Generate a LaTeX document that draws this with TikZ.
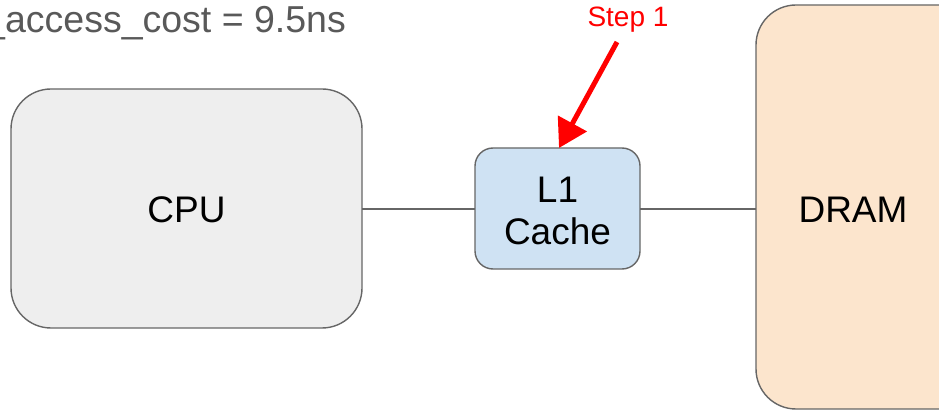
\documentclass[tikz,border=0pt]{standalone}
\usepackage{fontspec}
\setmainfont{Liberation Sans}
\usetikzlibrary{arrows.meta}
\definecolor{edgegray}{HTML}{666666}
\definecolor{cpufill}{HTML}{EEEEEE}
\definecolor{cachefill}{HTML}{CFE2F3}
\definecolor{dramfill}{HTML}{FCE5CD}
\definecolor{notegray}{HTML}{595959}
\definecolor{stepred}{HTML}{FF0000}
\tikzset{
  unitbox/.style={draw=edgegray, line width=1.4pt, rounded corners=#1, inner sep=0pt},
  link/.style={draw=edgegray, line width=1.4pt},
  boxtext/.style={font=\fontsize{37}{42}\selectfont, text=black, align=center},
}
\begin{document}
\begin{tikzpicture}[x=1pt, y=-1pt]
\useasboundingbox (0,0) rectangle (939,411);
\clip (0,0) rectangle (939,411);
\fill[white] (0,0) rectangle (939,411);
% component boxes
\draw[unitbox=40pt, fill=cpufill] (11,89) rectangle (362,328);
\draw[unitbox=18pt, fill=cachefill] (475,148) rectangle (640,269);
\draw[unitbox=40pt, fill=dramfill] (756,5) rectangle (985,409);
\node[boxtext] (cpu) at (186.5,210) {CPU};
\node[boxtext] (l1) at (557.5,211) {L1\\Cache};
\node[boxtext] (dram) at (853,210) {DRAM};
\coordinate (cpuR) at (362,209);
\coordinate (l1L) at (475,209);
\coordinate (l1R) at (640,209);
\coordinate (dramL) at (756,209);
\coordinate (l1T) at (559,148);
\draw[link] (cpuR) -- (l1L);
\draw[link] (l1R) -- (dramL);
% annotations
\node[anchor=base west, text=notegray, font=\fontsize{37.5}{42}\selectfont, inner sep=0pt] (cost) at (-16,33) {\_access\_cost = 9.5ns};
\node[text=stepred, font=\fontsize{28}{32}\selectfont, inner sep=0pt] (step) at (628,20) {Step 1};
\coordinate (arrowtail) at (617,42);
\draw[stepred, line width=5pt, -{Triangle[length=28pt, width=32pt]}] (arrowtail) -- (l1T);
\end{tikzpicture}
\end{document}
